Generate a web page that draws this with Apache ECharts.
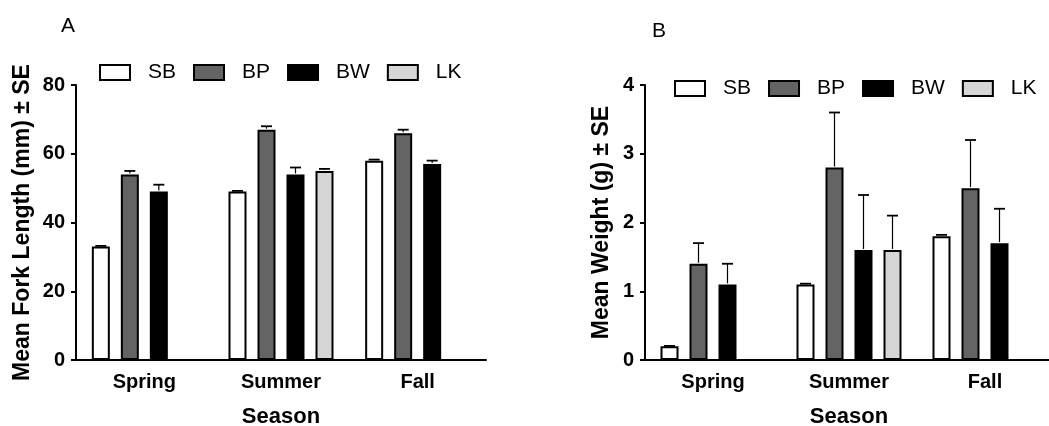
<!DOCTYPE html>
<html lang="en">
<head>
    <meta charset="UTF-8">
    <title>Mean Fork Length and Weight by Season</title>
    <script src="https://cdn.jsdelivr.net/npm/echarts@6/dist/echarts.min.js"></script>
    <style>
        html, body { margin: 0; padding: 0; background: #fff; }
        #main { width: 1049px; height: 426px; }
    </style>
</head>
<body>
    <div id="main"></div>

    <script>
        var seasons = ['Spring', 'Summer', 'Fall'];
        var species = ['SB', 'BP', 'BW', 'LK'];
        var colors = ['#ffffff', '#646464', '#000000', '#d6d6d6'];

        // panel A: fork length (mm), mean and SE
        var lenMean = {
            SB: [33, 49, 58],
            BP: [54, 67, 66],
            BW: [49, 54, 57],
            LK: [null, 55, null]
        };
        var lenSE = {
            SB: [0.2, 0.2, 0.3],
            BP: [1, 1, 1],
            BW: [2, 2, 1],
            LK: [null, 0.6, null]
        };

        // panel B: weight (g), mean and SE
        var wtMean = {
            SB: [0.2, 1.1, 1.8],
            BP: [1.4, 2.8, 2.5],
            BW: [1.1, 1.6, 1.7],
            LK: [null, 1.6, null]
        };
        var wtSE = {
            SB: [0.005, 0.01, 0.02],
            BP: [0.3, 0.8, 0.7],
            BW: [0.3, 0.8, 0.5],
            LK: [null, 0.5, null]
        };

        var yTicksA = [0, 20, 40, 60, 80];
        var yTicksB = [0, 1, 2, 3, 4];

        var FONT = '"Liberation Sans", Arial, sans-serif';
        var BAR_W = 18;
        var BAR_GAP = 11; // px between bars in a group

        var myChart = echarts.init(document.getElementById('main'));

        function barSeries(idx, meanObj) {
            return species.map(function (sp, s) {
                return {
                    name: sp,
                    type: 'bar',
                    xAxisIndex: idx,
                    yAxisIndex: idx,
                    barWidth: BAR_W,
                    barGap: (BAR_GAP / BAR_W * 100) + '%',
                    data: meanObj[sp],
                    itemStyle: { color: colors[s], borderColor: '#000', borderWidth: 2 },
                    emphasis: { disabled: true },
                    z: 2
                };
            });
        }

        // upper error bars, drawn over each bar
        function errSeries(idx, meanObj, seObj) {
            return species.map(function (sp, s) {
                var d = [];
                for (var i = 0; i < seasons.length; i++) {
                    if (meanObj[sp][i] != null) d.push([i, meanObj[sp][i], meanObj[sp][i] + seObj[sp][i]]);
                }
                return {
                    name: 'err' + idx + sp,
                    type: 'custom',
                    xAxisIndex: idx,
                    yAxisIndex: idx,
                    data: d,
                    z: 3,
                    renderItem: function (params, api) {
                        var off = (s - 1.5) * (BAR_W + BAR_GAP);
                        var lo = api.coord([api.value(0), api.value(1)]);
                        var hi = api.coord([api.value(0), api.value(2)]);
                        var x = lo[0] + off;
                        return {
                            type: 'group',
                            children: [
                                { type: 'line', shape: { x1: x, y1: lo[1] - 1, x2: x, y2: hi[1] },
                                  style: { stroke: '#000', lineWidth: 1.2 } },
                                { type: 'line', shape: { x1: x - 5.5, y1: hi[1], x2: x + 5.5, y2: hi[1] },
                                  style: { stroke: '#000', lineWidth: 1.8 } }
                            ]
                        };
                    }
                };
            });
        }

        function xAxisCfg(idx) {
            return {
                type: 'category',
                gridIndex: idx,
                data: seasons,
                name: 'Season',
                nameLocation: 'middle',
                nameGap: 46,
                nameTextStyle: { fontFamily: FONT, fontWeight: 'bold', fontSize: 22, color: '#000' },
                axisLine: { lineStyle: { color: '#000', width: 2 } },
                axisTick: { alignWithLabel: true, length: 6, lineStyle: { width: 2, color: '#000' } },
                axisLabel: { fontFamily: FONT, fontWeight: 'bold', fontSize: 20, color: '#000', margin: 12 }
            };
        }

        function yAxisCfg(idx, ticks, name, gap) {
            return {
                type: 'value',
                gridIndex: idx,
                min: ticks[0],
                max: ticks[ticks.length - 1],
                interval: ticks[1] - ticks[0],
                name: name,
                nameLocation: 'middle',
                nameGap: gap,
                nameTextStyle: { fontFamily: FONT, fontWeight: 'bold', fontSize: 23, color: '#000' },
                axisLine: { show: true, lineStyle: { color: '#000', width: 2 } },
                axisTick: { show: true, length: 5, lineStyle: { width: 2, color: '#000' } },
                axisLabel: { fontFamily: FONT, fontWeight: 'bold', fontSize: 20, color: '#000', margin: 11 },
                splitLine: { show: false }
            };
        }

        function legendCfg(left, top) {
            return {
                data: species,
                left: left,
                top: top,
                width: 440,
                itemWidth: 30,
                itemHeight: 15,
                itemGap: 17,
                icon: 'rect',
                selectedMode: false,
                textStyle: { fontFamily: FONT, fontSize: 21, color: '#000', padding: [0, 0, 0, 13] }
            };
        }

        var option = {
            animation: false,
            title: [
                { text: 'A', left: 56, top: 11, textStyle: { fontFamily: FONT, fontSize: 21, fontWeight: 'normal', color: '#000' } },
                { text: 'B', left: 647, top: 16, textStyle: { fontFamily: FONT, fontSize: 21, fontWeight: 'normal', color: '#000' } }
            ],
            legend: [legendCfg(94, 57), legendCfg(669, 73)],
            grid: [
                { left: 76, top: 85, width: 410, height: 275, outerBoundsMode: 'none' },
                { left: 645, top: 85, width: 408, height: 275, outerBoundsMode: 'none' }
            ],
            xAxis: [xAxisCfg(0), xAxisCfg(1)],
            yAxis: [
                yAxisCfg(0, yTicksA, 'Mean Fork Length (mm) \u00b1 SE', 42),
                yAxisCfg(1, yTicksB, 'Mean Weight (g) \u00b1 SE', 32)
            ],
            series: [].concat(
                barSeries(0, lenMean),
                barSeries(1, wtMean),
                errSeries(0, lenMean, lenSE),
                errSeries(1, wtMean, wtSE)
            )
        };

        myChart.setOption(option);
    </script>
</body>
</html>
